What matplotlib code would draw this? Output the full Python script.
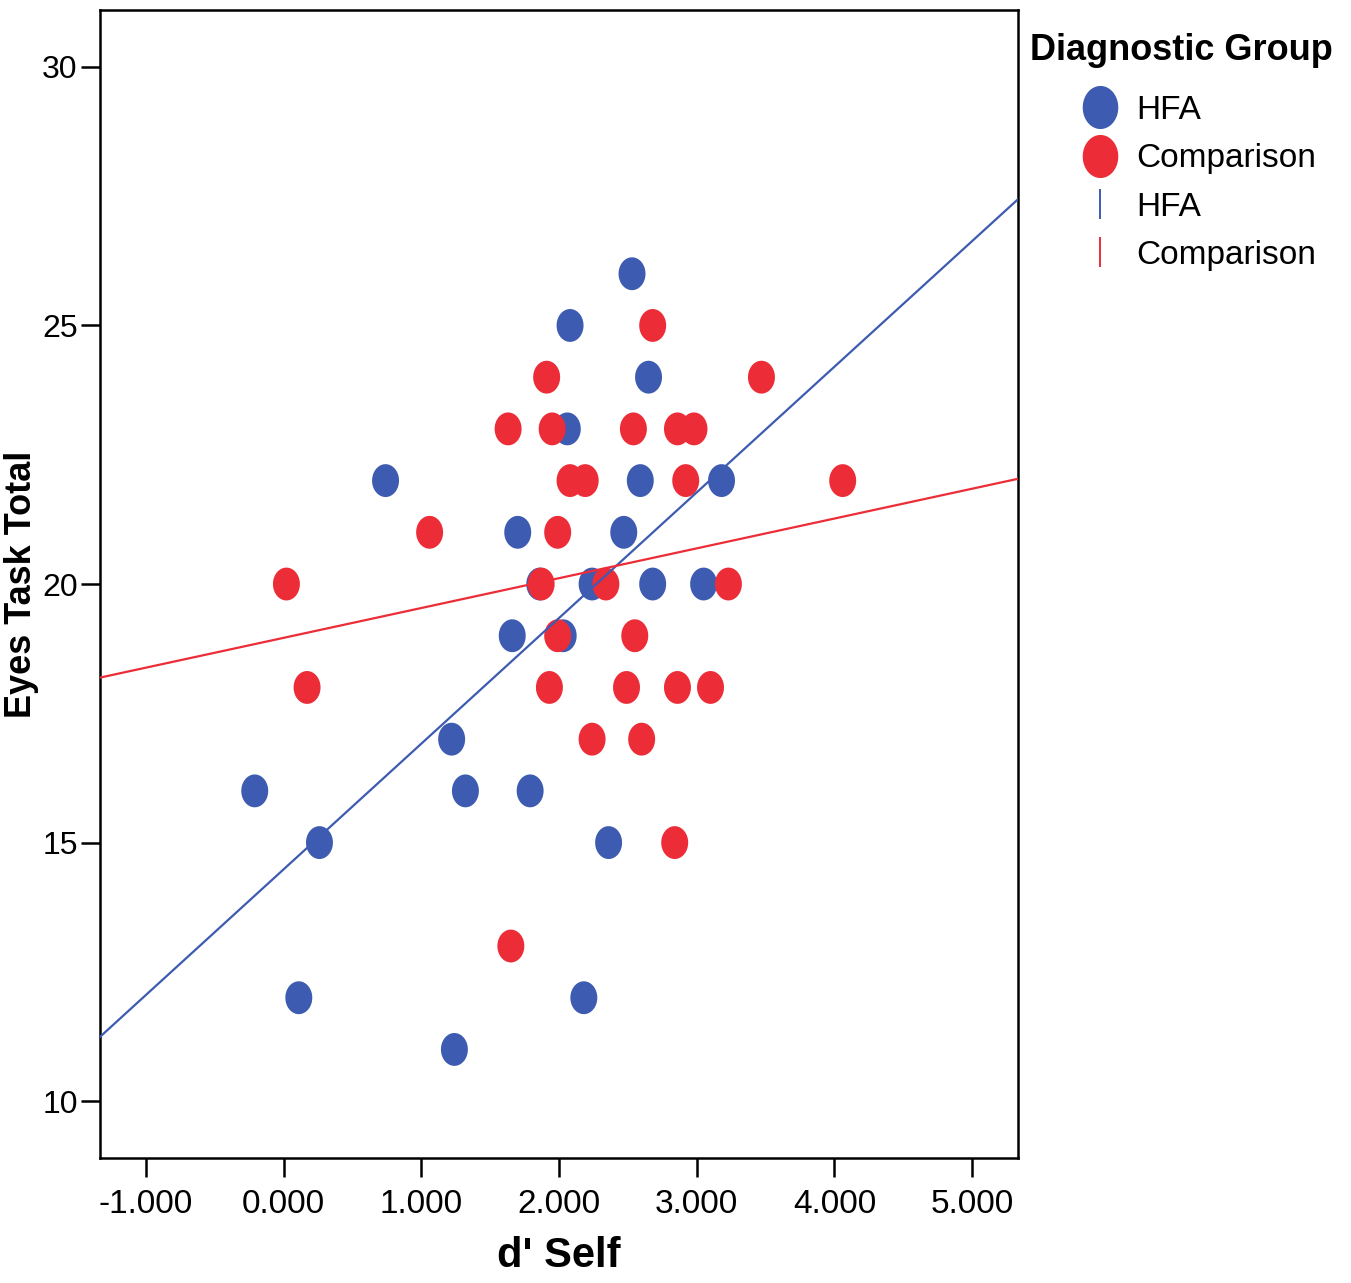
import numpy as np
import matplotlib
matplotlib.use('Agg')
import matplotlib.pyplot as plt
from matplotlib.path import Path
from matplotlib.lines import Line2D

plt.rcParams['font.family'] = ['Liberation Sans', 'DejaVu Sans']

# HFA group
hfa_x = [2.53, 2.08, 2.65, 2.06, 0.74, 2.59, 3.18, 1.70, 2.47, 1.86, 2.24, 2.68,
         3.05, 1.66, 2.03, 1.22, -0.21, 1.32, 1.79, 0.26, 2.36, 0.11, 2.18, 1.24]
hfa_y = [26, 25, 24, 23, 22, 22, 22, 21, 21, 20, 20, 20,
         20, 19, 19, 17, 16, 16, 16, 15, 15, 12, 12, 11]

# Comparison group
cmp_x = [2.68, 1.91, 3.47, 1.63, 1.95, 2.54, 2.86, 2.98, 2.08, 2.19, 2.92, 4.06,
         1.06, 1.99, 0.02, 1.87, 2.34, 3.23, 1.99, 2.55, 0.17, 1.93, 2.49, 2.86,
         3.10, 2.24, 2.60, 2.84, 1.65]
cmp_y = [25, 24, 24, 23, 23, 23, 23, 23, 22, 22, 22, 22,
         21, 21, 20, 20, 20, 20, 19, 19, 18, 18, 18, 18,
         18, 17, 17, 15, 13]

blue = '#3d5bb0'
red = '#ec2d38'

# slightly tall ellipse marker like SPSS
t = np.linspace(0, 2 * np.pi, 60)
ell = Path(np.column_stack([0.82 * np.cos(t), np.sin(t)]), closed=True)

fig = plt.figure(figsize=(13.51, 12.83), dpi=100)
ax = fig.add_axes([0.074, 0.0974, 0.6795, 0.8948])

xlim = (-1.334, 5.333)
ax.scatter(cmp_x, cmp_y, marker=ell, s=560, color=red, edgecolors='none', zorder=3)
ax.scatter(hfa_x, hfa_y, marker=ell, s=560, color=blue, edgecolors='none', zorder=2)

# linear fit per group
xs = np.array(xlim)
b, a = np.polyfit(hfa_x, hfa_y, 1)
ax.plot(xs, a + b * xs, color=blue, lw=1.6, zorder=4)
b, a = np.polyfit(cmp_x, cmp_y, 1)
ax.plot(xs, a + b * xs, color=red, lw=1.6, zorder=4)

ax.set_xlim(xlim)
ax.set_ylim(8.9, 31.1)
ax.set_xticks(np.arange(-1, 6))
ax.set_xticklabels(['%.3f' % v for v in range(-1, 6)])
ax.set_yticks([10, 15, 20, 25, 30])
ax.tick_params(direction='out', length=14, width=1.8, labelsize=24)
ax.tick_params(axis='x', pad=8)
ax.tick_params(axis='y', pad=2, labelsize=23)
for s in ax.spines.values():
    s.set_linewidth(1.8)

ax.set_xlabel("d' Self", fontsize=30, fontweight='bold', labelpad=12)
ax.set_ylabel('Eyes Task Total', fontsize=26, fontweight='bold')
ax.yaxis.set_label_coords(-0.066, 0.5)

handles = [
    Line2D([], [], ls='none', marker=ell, markersize=30, color=blue),
    Line2D([], [], ls='none', marker=ell, markersize=30, color=red),
    Line2D([], [], ls='none', marker='|', markersize=22, markeredgewidth=1.4, color=blue),
    Line2D([], [], ls='none', marker='|', markersize=22, markeredgewidth=1.4, color=red),
]
fig.text(1030 / 1351, 1 - 50 / 1283, 'Diagnostic Group', fontsize=26,
         fontweight='bold', ha='left', va='center')
leg = fig.legend(handles, ['HFA', 'Comparison', 'HFA', 'Comparison'],
                 loc='upper left', bbox_to_anchor=(1075 / 1351, 1 - 95 / 1283),
                 frameon=False, fontsize=24, handletextpad=0.33,
                 labelspacing=0.52, borderaxespad=0, borderpad=0,
                 handlelength=1.5)

fig.savefig('out.png', dpi=100)
